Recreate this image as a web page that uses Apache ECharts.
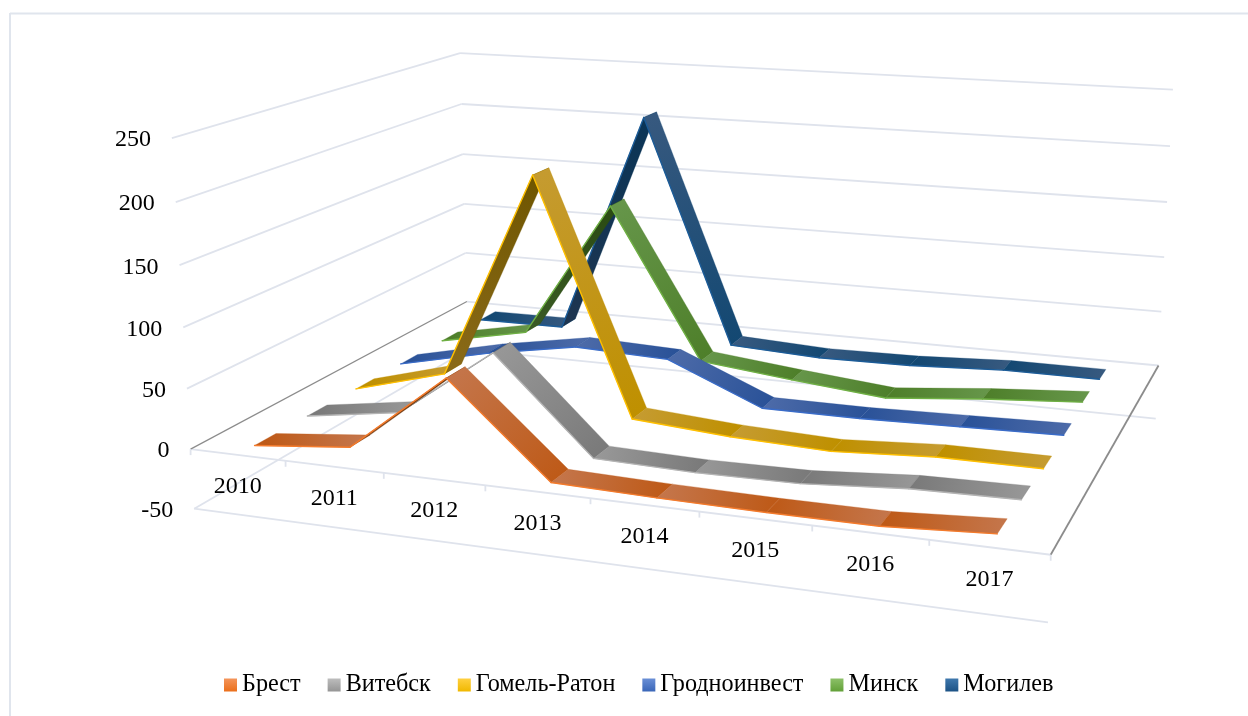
<!DOCTYPE html>
<html><head><meta charset="utf-8">
<style>html,body{margin:0;padding:0;background:#fff}#c{width:1248px;height:716px;filter:blur(0.4px)}</style>
<script src="https://cdn.jsdelivr.net/npm/echarts@6/dist/echarts.min.js"></script>
</head><body><div id="c"></div>
<script>
const years = ['2010','2011','2012','2013','2014','2015','2016','2017'];
const valueTicks = [-50,0,50,100,150,200,250];
const brest    = [0, 8, 73, -1, -3, -4, -4, 1];
const vitebsk  = [0, 12, 71, -8, -10, -9, -3, -1.5];
const gomel    = [0, 22, 200, 0, -6, -9, -4, -4];
const grodno   = [0, 18, 32, 29, -6, -6, -4, -2];
const minsk    = [0, 16, 141, 5, -4, -12, -4, 2];
const mogilev  = [-0.5, 0, 208, -2, -6, -5, -1, -1];
const names = ['Брест','Витебск','Гомель-Ратон','Гродноинвест','Минск','Могилев'];
const values = [brest, vitebsk, gomel, grodno, minsk, mogilev];

const edge   = ['#F47B2C','#B4B4B4','#FFC000','#3A6CC8','#6FB044','#1C5C98'];
const topA   = ['#C4754A','#979797','#C59B30','#4C6AA8','#66964A','#37597F'];
const topB   = ['#BE5A18','#7A7A7A','#BF9000','#2A5298','#4E7F2A','#134872'];
const underA = ['#8A4A1C','#6A6A6A','#8A6A18','#2A4A80','#3A5A24','#1E3550'];
const underB = ['#6A3408','#505050','#6E5500','#1E3C70','#2A4A12','#0A3557'];
const swatchA= ['#F4955B','#BDBDBD','#FFD040','#6A8FD6','#8CC068','#3F78AD'];
const swatchB= ['#EB6F1B','#959595','#F0B800','#3A66B8','#62A038','#1C5285'];

const GRID = {left:0, top:0, width:800, height:300};
// perspective camera of the 3-D box: box coordinates (u along years, t along values, w along series) to page
const CAM = [717.41206,-29.47635,396.77285,194.19173,32.70724,-376.31781,-67.49181,508.71523,-0.13011,-0.04171,0.26217];
function cam(u,t,w){
  const d = CAM[8]*u + CAM[9]*t + CAM[10]*w + 1;
  return [(CAM[0]*u+CAM[1]*t+CAM[2]*w+CAM[3])/d, (CAM[4]*u+CAM[5]*t+CAM[6]*w+CAM[7])/d];
}
const RIBBON = 0.066;
function box(px, w){
  return cam((px[0]-GRID.left)/GRID.width, (GRID.top+GRID.height-px[1])/GRID.height, w);
}
const SERIF = 'Liberation Serif';

function renderRibbon(s){
  return function(params, api){
    const i = params.dataIndex;
    const vals = values[s];
    if (i >= vals.length-1) return {type:'group', children:[]};
    const p0 = api.coord([i, vals[i]]), p1 = api.coord([i+1, vals[i+1]]);
    const wc = (s+0.5)/names.length, wf = wc-RIBBON/2, wb = wc+RIBBON/2;
    const a = box(p0,wf), b = box(p1,wf), c = box(p1,wb), d = box(p0,wb);
    const cross = (b[0]-a[0])*(c[1]-a[1])-(b[1]-a[1])*(c[0]-a[0]);
    const under = cross > 0;
    const flip = !under && (i === 0 || i >= 5 || (i === 1 && vals[i+1] - vals[i] < 20));
    const m0 = [(a[0]+d[0])/2,(a[1]+d[1])/2], m1 = [(b[0]+c[0])/2,(b[1]+c[1])/2];
    const ca = (under?underA:topA)[s], cb = (under?underB:topB)[s];
    const fill = new echarts.graphic.LinearGradient(m0[0],m0[1],m1[0],m1[1],[
      {offset:0,color:flip?cb:ca},{offset:1,color:flip?ca:cb}],true);
    return {type:'group', children:[
      {type:'polygon', shape:{points:[a,b,c,d]}, style:{fill:fill, stroke:cb, lineWidth:0.3}},
      {type:'line', shape:{x1:a[0],y1:a[1],x2:b[0],y2:b[1]}, style:{stroke:edge[s], lineWidth:1.4, lineCap:'round'}}
    ]};
  };
}

function renderFrame(params, api){
  const kids = [];
  const line = (p,q,color,width)=>kids.push({type:'line',shape:{x1:p[0],y1:p[1],x2:q[0],y2:q[1]},style:{stroke:color,lineWidth:width}});
  const LIGHT='#DFE3EC', DARK='#8C8C8C';
  const T = v => (GRID.top+GRID.height-api.coord([0,v])[1])/GRID.height;
  const band = api.size([1,0])[0]/GRID.width;
  valueTicks.forEach(v=>{
    const t=T(v), f=cam(0,t,0), bl=cam(0,t,1), br=cam(1,t,1);
    if (v!==0) line(f,bl,LIGHT,1.8);
    line(bl,br,LIGHT,1.8);
    kids.push({type:'text',style:{text:String(v),x:f[0]-21,y:f[1]+2,textAlign:'right',textVerticalAlign:'middle',
      fontFamily:SERIF,fontSize:24,fill:'#000'}});
  });
  const t0=T(0), tb=T(-50);
  line(cam(0,tb,0),cam(1,tb,0),LIGHT,1.8);
  line(cam(0,t0,0),cam(1,t0,0),LIGHT,1.8);
  line(cam(0,t0,0),cam(0,t0,1),DARK,1.2);
  line(cam(1,t0,0),cam(1,t0,1),DARK,1.8);
  for(let i=0;i<=years.length;i++){
    const p=cam(i*band,t0,0);
    line(p,[p[0],p[1]+6],LIGHT,1.8);
  }
  years.forEach((y,i)=>{
    const p=cam((i+0.5)*band,t0,0);
    kids.push({type:'text',style:{text:y,x:p[0],y:p[1]+32,textAlign:'center',textVerticalAlign:'middle',
      fontFamily:SERIF,fontSize:24,fill:'#000'}});
  });
  return {type:'group',children:kids};
}

const series = [{type:'custom',name:'frame',silent:true,clip:false,data:[[0,0]],encode:{x:0,y:1},renderItem:renderFrame,z:1}];
for(let s=names.length-1;s>=0;s--){
  series.push({type:'custom',name:names[s],silent:true,clip:false,z:2,encode:{x:0,y:1},
    data:values[s].map((v,i)=>[i,v]),renderItem:renderRibbon(s)});
}
const chart = echarts.init(document.getElementById('c'),null,{renderer:'canvas'});
chart.setOption({
  animation:false,
  backgroundColor:'#fff',
  grid:GRID,
  xAxis:{type:'category',data:years,show:false},
  yAxis:{type:'value',min:-50,max:250,interval:50,show:false},
  legend:{
    left:224, top:673, padding:0, itemWidth:13, itemHeight:13, itemGap:27, icon:'rect', selectedMode:false,
    textStyle:{fontFamily:SERIF,fontSize:24.2,color:'#000'},
    data:names.map((n,i)=>({name:n,icon:'rect',itemStyle:{color:{type:'linear',x:0,y:0,x2:0,y2:1,
      colorStops:[{offset:0,color:swatchA[i]},{offset:1,color:swatchB[i]}]}}}))
  },
  graphic:[
    {type:'line',silent:true,shape:{x1:10,y1:13.5,x2:1248,y2:13.5},style:{stroke:'#E0E5ED',lineWidth:2}},
    {type:'line',silent:true,shape:{x1:10,y1:13,x2:10,y2:716},style:{stroke:'#E0E5ED',lineWidth:2}}
  ],
  series:series
});
</script></body></html>
